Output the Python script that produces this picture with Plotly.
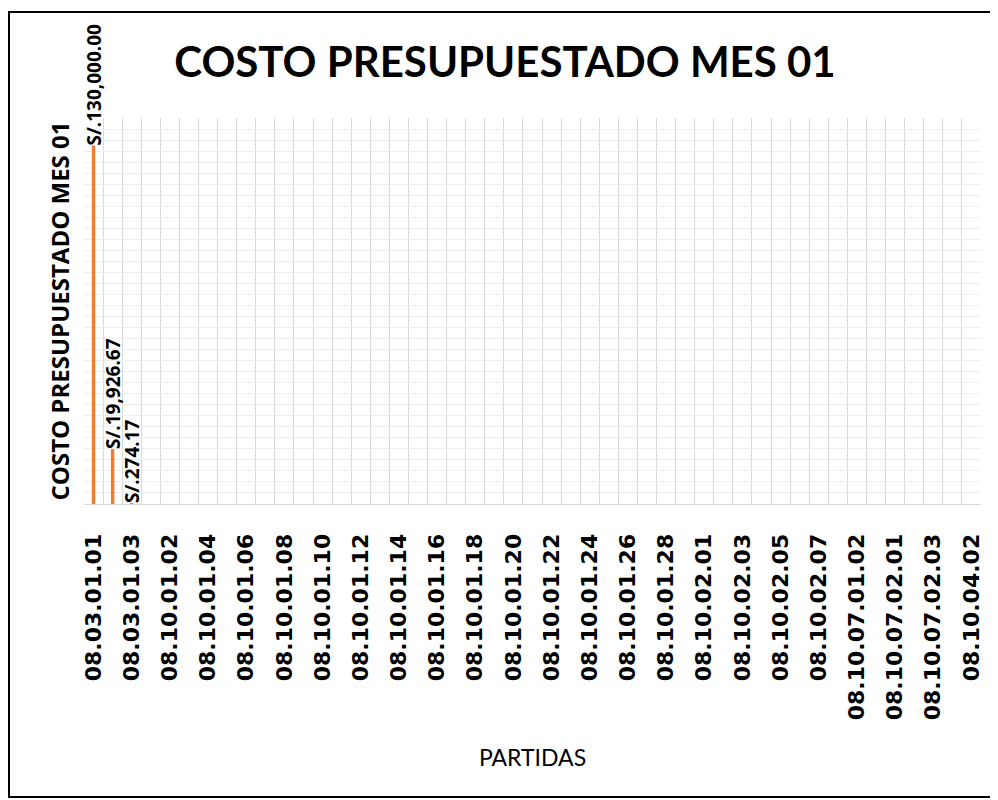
import plotly.graph_objects as go

categories = [
    "08.03.01.01", "08.03.01.02", "08.03.01.03",
    "08.10.01.01", "08.10.01.02", "08.10.01.03", "08.10.01.04", "08.10.01.05",
    "08.10.01.06", "08.10.01.07", "08.10.01.08", "08.10.01.09", "08.10.01.10",
    "08.10.01.11", "08.10.01.12", "08.10.01.13", "08.10.01.14", "08.10.01.15",
    "08.10.01.16", "08.10.01.17", "08.10.01.18", "08.10.01.19", "08.10.01.20",
    "08.10.01.21", "08.10.01.22", "08.10.01.23", "08.10.01.24", "08.10.01.25",
    "08.10.01.26", "08.10.01.27", "08.10.01.28", "08.10.01.29",
    "08.10.02.01", "08.10.02.02", "08.10.02.03", "08.10.02.04", "08.10.02.05",
    "08.10.02.06", "08.10.02.07",
    "08.10.07.01.01", "08.10.07.01.02", "08.10.07.01.03",
    "08.10.07.02.01", "08.10.07.02.02", "08.10.07.02.03",
    "08.10.04.01", "08.10.04.02",
]
values = [130000.00, 19926.67, 274.17] + [None] * (len(categories) - 3)
value_labels = ["S/.130,000.00", "S/.19,926.67", "S/.274.17"] + [""] * (len(categories) - 3)

chart_title = "COSTO PRESUPUESTADO MES 01"
y_title = "COSTO PRESUPUESTADO MES 01"
x_title = "PARTIDAS"

idx = list(range(len(categories)))
shown_idx = idx[::2]
shown_labels = categories[::2]

fig = go.Figure()
fig.add_trace(go.Bar(
    x=idx, y=values, width=0.18,
    marker=dict(color="#ED7D31", line=dict(width=0)),
    text=value_labels,
    textposition="outside", textangle=-90,
    constraintext="none", cliponaxis=False,
    textfont=dict(family="Open Sans", size=19, color="#000000", weight=700),
    hoverinfo="x+y",
))

# page is offset by the 8px body margin
W, H = 990, 792
L, R, T, B = 76, 17, 110, 296
pw, ph = W - L - R, H - T - B

fig.update_layout(
    width=W, height=H,
    margin=dict(l=L, r=R, t=T, b=B, autoexpand=False),
    paper_bgcolor="white", plot_bgcolor="white",
    showlegend=False,
    title=dict(text=chart_title, x=497 / W, xanchor="center", xref="container",
               y=1 - 54 / H, yanchor="middle", yref="container",
               font=dict(family="Lato", size=42, color="#000000", weight=700)),
    xaxis=dict(
        range=[-0.5, len(categories) - 0.5],
        tickmode="array", tickvals=shown_idx, ticktext=shown_labels,
        tickangle=-90, showgrid=False, ticks="",
        ticklabelstandoff=20,
        tickfont=dict(family="DejaVu Sans", size=22, color="#000000", weight="bold"),
        minor=dict(tick0=0.5, dtick=1, showgrid=True, gridcolor="#d9d9d9", gridwidth=1.3),
        showline=True, linecolor="#d9d9d9", linewidth=1,
        zeroline=False, automargin=False,
        title=dict(text=x_title, font=dict(family="Lato", size=23, color="#000000"), standoff=30),
    ),
    yaxis=dict(
        range=[0, 140000], dtick=4000, showticklabels=False, ticks="",
        showgrid=True, gridcolor="#eeeeee", gridwidth=1,
        zeroline=False, showline=False, automargin=False,
        title=dict(text=y_title, font=dict(family="Open Sans", size=24, color="#000000", weight=700), standoff=6),
    ),
    shapes=[dict(type="rect", xref="paper", yref="paper",
                 x0=(1 - L) / pw, x1=(987 - L) / pw,
                 y0=(H - B - 789) / ph, y1=(H - B - 4) / ph,
                 line=dict(color="#000000", width=2), fillcolor="rgba(0,0,0,0)", layer="above")],
)

fig.write_html("out.html")
